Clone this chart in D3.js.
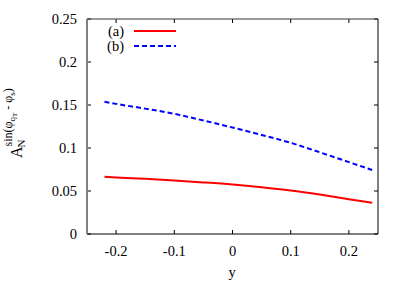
<!DOCTYPE html>
<html><head><meta charset="utf-8">
<script src="https://cdn.jsdelivr.net/npm/d3@7"></script>
<style>
body{margin:0;background:#fff;}
svg text{font-family:'Liberation Serif','Times New Roman','DejaVu Serif',serif;fill:#000;}
</style></head>
<body><svg id="c" width="407" height="285" font-family="Liberation Serif, serif"></svg>
<script>
const xs = [-0.22,-0.2,-0.15,-0.1,-0.05,0,0.05,0.1,0.15,0.2,0.24];
const seriesA = [0.0666,0.0658,0.0642,0.0622,0.0600,0.0575,0.0543,0.0505,0.0458,0.0405,0.0364];
const seriesB = [0.1538,0.1513,0.1458,0.1397,0.1320,0.1238,0.1152,0.1060,0.0950,0.0836,0.0744];
const xTicks = [-0.2,-0.1,0,0.1,0.2];
const yTicks = [0,0.05,0.1,0.15,0.2,0.25];
const legendLabels = ["(a)","(b)"];

const svg = d3.select("#c");
const L=87,R=378,T=19,B=234;
const x = d3.scaleLinear().domain([-0.25,0.25]).range([L,R]);
const y = d3.scaleLinear().domain([0,0.25]).range([B,T]);
const fmt = d => d===0 ? "0" : String(d);

const tl=4;
const g = svg.append("g");
xTicks.forEach(v=>{
  g.append("line").attr("x1",x(v)).attr("x2",x(v)).attr("y1",B).attr("y2",B-tl).attr("stroke","#000");
  g.append("line").attr("x1",x(v)).attr("x2",x(v)).attr("y1",T).attr("y2",T+tl).attr("stroke","#000");
  g.append("text").attr("x",x(v)).attr("y",B+22).attr("text-anchor","middle").attr("font-size",14.5).text(fmt(v));
});
yTicks.forEach(v=>{
  g.append("line").attr("x1",L).attr("x2",L+tl).attr("y1",y(v)).attr("y2",y(v)).attr("stroke","#000");
  g.append("line").attr("x1",R).attr("x2",R-tl).attr("y1",y(v)).attr("y2",y(v)).attr("stroke","#000");
  g.append("text").attr("x",L-10).attr("y",y(v)+5).attr("text-anchor","end").attr("font-size",14.5).text(fmt(v));
});
svg.append("line").attr("x1",L).attr("x2",R).attr("y1",T).attr("y2",T).attr("stroke","#333");
svg.append("line").attr("x1",L).attr("x2",R).attr("y1",B).attr("y2",B).attr("stroke","#000");
svg.append("line").attr("x1",R).attr("x2",R).attr("y1",T).attr("y2",B).attr("stroke","#000");
svg.append("line").attr("x1",L).attr("x2",L).attr("y1",T).attr("y2",B).attr("stroke","#808080").attr("stroke-width",2);

const line = d3.line().x((d,i)=>x(xs[i])).y(d=>y(d)).curve(d3.curveMonotoneX);
svg.append("path").attr("d",line(seriesA)).attr("fill","none").attr("stroke","#ff0000").attr("stroke-width",2);
svg.append("path").attr("d",line(seriesB)).attr("fill","none").attr("stroke","#0000ff").attr("stroke-width",2).attr("stroke-dasharray","5,3");

const styles=[{c:"#ff0000",d:null},{c:"#0000ff",d:"5,3"}];
legendLabels.forEach((lab,i)=>{
  const yy = 31 + i*15;
  svg.append("text").attr("x",124).attr("y",yy+5).attr("text-anchor","end").attr("font-size",14.5).text(lab);
  const ln = svg.append("line").attr("x1",134).attr("x2",176).attr("y1",yy).attr("y2",yy).attr("stroke",styles[i].c).attr("stroke-width",2);
  if(styles[i].d) ln.attr("stroke-dasharray",styles[i].d);
});

svg.append("text").attr("x",232).attr("y",277).attr("text-anchor","middle").attr("font-size",14.5).text("y");
const yl = svg.append("text").attr("transform","rotate(-90)").attr("x",-158).attr("y",22).attr("font-size",16);
yl.append("tspan").text("A");
yl.append("tspan").attr("font-size",11).attr("dy",3).attr("dx",-1).text("N");
yl.append("tspan").attr("font-size",12).attr("dy",-13).attr("dx",-7).text("sin(φ");
yl.append("tspan").attr("font-size",9).attr("dy",3).text("q");
yl.append("tspan").attr("font-size",7).attr("dy",2).text("T");
yl.append("tspan").attr("font-size",12).attr("dy",-5).text(" - φ");
yl.append("tspan").attr("font-size",9).attr("dy",3).text("s");
yl.append("tspan").attr("font-size",12).attr("dy",-3).text(")");
</script></body></html>
